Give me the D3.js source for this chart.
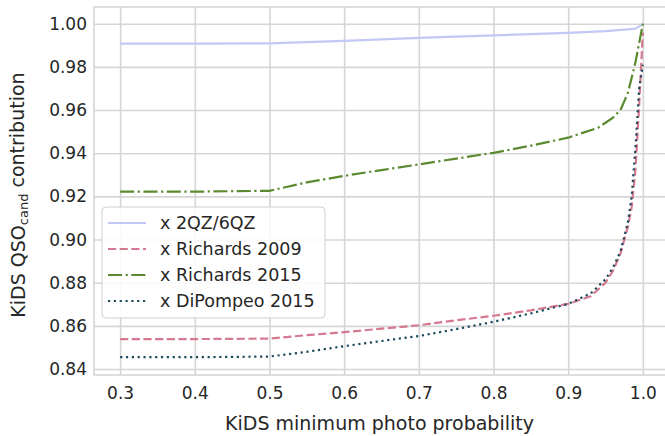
<!DOCTYPE html>
<html>
<head>
<meta charset="utf-8">
<script src="https://cdn.jsdelivr.net/npm/d3@7/dist/d3.min.js"></script>
<style>
  html, body { margin: 0; padding: 0; background: #fff; }
  svg { display: block; font-family: "DejaVu Sans", sans-serif; }
</style>
</head>
<body>
<div id="chart"></div>
<script>
// values
const probs2qz = [0.30, 0.40, 0.50, 0.60, 0.70, 0.80, 0.90, 0.95, 0.98, 0.99, 1.00];
const vals2qz  = [0.9908, 0.9908, 0.9909, 0.9921, 0.9934, 0.9946, 0.9958, 0.9966, 0.9974, 0.9977, 0.9998];

const probsRich09 = [0.30, 0.40, 0.50, 0.55, 0.60, 0.65, 0.70, 0.75, 0.80, 0.85, 0.90, 0.93, 0.95, 0.96, 0.97, 0.98, 0.985, 0.99, 0.995, 1.00];
const valsRich09  = [0.8539, 0.8539, 0.8541, 0.8557, 0.8571, 0.8587, 0.8603, 0.8626, 0.8647, 0.8672, 0.8702, 0.8737, 0.8800, 0.8855, 0.8935, 0.9060, 0.9150, 0.9320, 0.9620, 0.9960];

const probsRich15 = [0.30, 0.40, 0.50, 0.55, 0.60, 0.65, 0.70, 0.75, 0.80, 0.85, 0.90, 0.94, 0.96, 0.97, 0.98, 0.99, 1.00];
const valsRich15  = [0.9222, 0.9222, 0.9226, 0.9265, 0.9295, 0.9322, 0.9348, 0.9375, 0.9402, 0.9435, 0.9472, 0.9518, 0.9565, 0.9600, 0.9680, 0.9820, 1.0000];

const probsDiP15 = [0.30, 0.40, 0.50, 0.55, 0.60, 0.65, 0.70, 0.75, 0.80, 0.85, 0.90, 0.93, 0.95, 0.96, 0.97, 0.98, 0.985, 0.99, 0.995, 1.00];
const valsDiP15  = [0.8455, 0.8455, 0.8458, 0.8480, 0.8506, 0.8530, 0.8553, 0.8585, 0.8619, 0.8658, 0.8702, 0.8750, 0.8816, 0.8870, 0.8945, 0.9080, 0.9200, 0.9420, 0.9700, 0.9810];

const xTicks = [0.3, 0.4, 0.5, 0.6, 0.7, 0.8, 0.9, 1.0];
const yTicks = [0.84, 0.86, 0.88, 0.90, 0.92, 0.94, 0.96, 0.98, 1.00];

const seriesNames = ['x 2QZ/6QZ', 'x Richards 2009', 'x Richards 2015', 'x DiPompeo 2015'];

const LW = 2.2;
const series = [
  { name: seriesNames[0], xs: probs2qz,    ys: vals2qz,    color: '#c3c9f4', dash: null },
  { name: seriesNames[1], xs: probsRich09, ys: valsRich09, color: '#d4798f', dash: [3.7 * LW, 1.6 * LW] },
  { name: seriesNames[2], xs: probsRich15, ys: valsRich15, color: '#5b8a30', dash: [6.4 * LW, 1.6 * LW, 1 * LW, 1.6 * LW] },
  { name: seriesNames[3], xs: probsDiP15,  ys: valsDiP15,  color: '#1d4a5c', dash: [1 * LW, 1.65 * LW] }
];

const width = 665, height = 436;
const frame = { left: 94, top: 7, right: 669, bottom: 375 };
const gridColor = '#d6d6d6';
const textColor = '#262626';

const svg = d3.select('#chart').append('svg')
  .attr('width', width)
  .attr('height', height);

const x = d3.scaleLinear().domain([0.265, 1.035]).range([frame.left, frame.right]);
const y = d3.scaleLinear().domain([0.83725, 1.00775]).range([frame.bottom, frame.top]);

svg.append('defs').append('clipPath').attr('id', 'plot-clip')
  .append('rect')
  .attr('x', frame.left).attr('y', frame.top)
  .attr('width', frame.right - frame.left).attr('height', frame.bottom - frame.top);

// grid
const gridG = svg.append('g');
gridG.append('g')
  .attr('transform', `translate(0,${frame.bottom})`)
  .call(d3.axisBottom(x).tickValues(xTicks).tickSize(-(frame.bottom - frame.top)).tickFormat(''))
  .call(g => g.select('.domain').remove());
gridG.append('g')
  .attr('transform', `translate(${frame.left},0)`)
  .call(d3.axisLeft(y).tickValues(yTicks).tickSize(-(frame.right - frame.left)).tickFormat(''))
  .call(g => g.select('.domain').remove());
gridG.selectAll('line').attr('stroke', gridColor).attr('stroke-width', 1.6);

// frame
svg.append('rect')
  .attr('x', frame.left).attr('y', frame.top)
  .attr('width', frame.right - frame.left).attr('height', frame.bottom - frame.top)
  .attr('fill', 'none')
  .attr('stroke', gridColor)
  .attr('stroke-width', 1.6);

// tick labels
const xAxisG = svg.append('g')
  .attr('transform', `translate(0,${frame.bottom})`)
  .call(d3.axisBottom(x).tickValues(xTicks).tickSize(0).tickPadding(12).tickFormat(d3.format('.1f')));
const yAxisG = svg.append('g')
  .attr('transform', `translate(${frame.left},0)`)
  .call(d3.axisLeft(y).tickValues(yTicks).tickSize(0).tickPadding(7).tickFormat(d3.format('.2f')));
[xAxisG, yAxisG].forEach(axis => {
  axis.select('.domain').remove();
  axis.selectAll('text')
    .style('fill', textColor)
    .style('font-size', '17px')
    .style('font-family', '"DejaVu Sans", sans-serif');
});

// lines
const line = d3.line().x(d => x(d[0])).y(d => y(d[1]));
const linesG = svg.append('g').attr('clip-path', 'url(#plot-clip)');
series.forEach(s => {
  linesG.append('path')
    .datum(s.xs.map((p, i) => [p, s.ys[i]]))
    .attr('d', line)
    .attr('fill', 'none')
    .attr('stroke', s.color)
    .attr('stroke-width', LW)
    .attr('stroke-dasharray', s.dash ? s.dash.join(',') : null);
});

// axis labels
svg.append('text')
  .attr('x', (frame.left + frame.right) / 2 - 2)
  .attr('y', 430)
  .attr('text-anchor', 'middle')
  .style('fill', textColor)
  .style('font-size', '19px')
  .text('KiDS minimum photo probability');

const yLabel = svg.append('text')
  .attr('transform', `translate(25,${(frame.top + frame.bottom) / 2 + 4}) rotate(-90)`)
  .attr('text-anchor', 'middle')
  .style('fill', textColor)
  .style('font-size', '19px');
yLabel.append('tspan').text('KiDS QSO');
yLabel.append('tspan').attr('dy', '0.2em').style('font-size', '13px').text('cand');
yLabel.append('tspan').attr('dy', '-0.2em').text(' contribution');

// legend
const legend = { x: 102, y: 207, w: 223, h: 111, row: 26 };
const legendG = svg.append('g');
legendG.append('rect')
  .attr('x', legend.x).attr('y', legend.y)
  .attr('width', legend.w).attr('height', legend.h)
  .attr('rx', 4)
  .attr('fill', 'rgba(255,255,255,0.85)')
  .attr('stroke', '#d0d0d0')
  .attr('stroke-width', 1);

series.forEach((s, i) => {
  const cy = legend.y + 16 + i * legend.row;
  legendG.append('line')
    .attr('x1', legend.x + 6).attr('x2', legend.x + 44)
    .attr('y1', cy).attr('y2', cy)
    .attr('stroke', s.color)
    .attr('stroke-width', LW)
    .attr('stroke-dasharray', s.dash ? s.dash.join(',') : null);
  legendG.append('text')
    .attr('x', legend.x + 58)
    .attr('y', cy)
    .attr('dy', '0.35em')
    .style('fill', textColor)
    .style('font-size', '17.5px')
    .text(s.name);
});
</script>
</body>
</html>
